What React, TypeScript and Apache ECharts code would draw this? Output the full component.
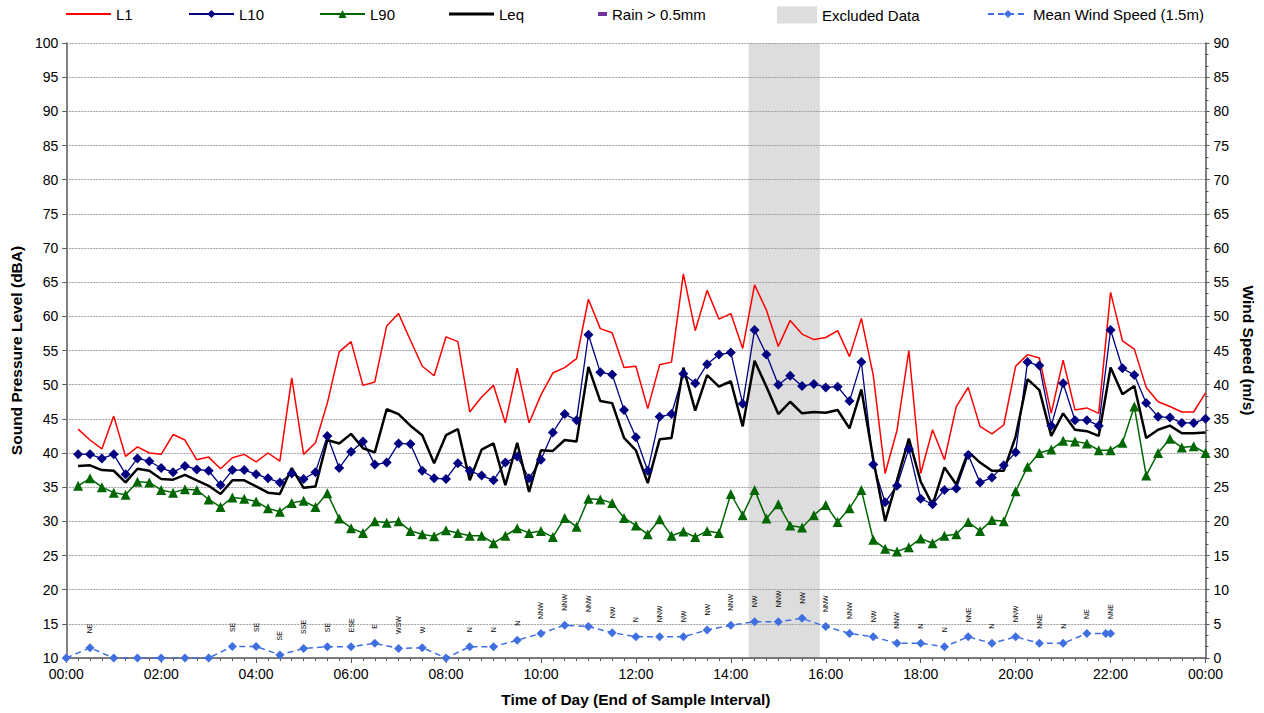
import React, { useEffect, useRef } from "react";
import * as echarts from "echarts";

// End of each 15-minute sample interval, in hours (00:15 ... 24:00)
const intervalEndHours: number[] = Array.from({ length: 96 }, (_, i) => (i + 1) / 4);

const L1 = [
  43.5, 41.9, 40.6, 45.4, 39.5, 40.9, 40.0, 39.8, 42.7, 41.9, 39.0, 39.4, 37.7, 39.3, 39.8, 38.7,
  40.0, 38.8, 51.0, 39.8, 41.5, 47.3, 54.8, 56.3, 49.9, 50.4, 58.6, 60.4, 56.5, 52.7, 51.3, 57.0,
  56.3, 46.0, 48.2, 49.9, 44.4, 52.4, 44.4, 48.5, 51.7, 52.5, 53.8, 62.5, 58.2, 57.6, 52.5, 52.7,
  46.5, 52.9, 53.3, 66.2, 57.9, 63.8, 59.6, 60.4, 55.3, 64.6, 60.9, 55.6, 59.4, 57.4, 56.6, 56.9,
  57.9, 54.1, 59.7, 51.4, 37.0, 43.3, 55.0, 37.0, 43.4, 39.0, 46.8, 49.6, 43.9, 42.8, 44.1, 52.7,
  54.4, 53.9, 45.8, 53.6, 46.3, 46.6, 45.8, 63.5, 56.4, 55.2, 49.6, 47.5, 46.8, 46.0, 46.0, 48.8,
];

const L10 = [
  39.8, 39.8, 39.2, 39.8, 36.9, 39.2, 38.8, 37.8, 37.2, 38.1, 37.6, 37.4, 35.3, 37.5, 37.5, 36.9,
  36.3, 35.7, 37.0, 36.2, 37.2, 42.5, 37.8, 40.2, 41.7, 38.3, 38.6, 41.4, 41.3, 37.4, 36.3, 36.2,
  38.5, 37.4, 36.7, 36.0, 38.6, 39.5, 36.3, 39.0, 43.0, 45.7, 44.8, 57.3, 51.8, 51.5, 46.3, 42.3,
  37.4, 45.3, 45.7, 51.6, 50.2, 53.0, 54.4, 54.7, 47.2, 58.0, 54.4, 50.0, 51.3, 49.8, 50.1, 49.6,
  49.7, 47.6, 53.3, 38.3, 32.8, 35.2, 40.6, 33.3, 32.5, 34.6, 34.8, 39.7, 35.7, 36.4, 38.2, 40.1,
  53.3, 52.8, 44.0, 50.2, 44.8, 44.8, 44.0, 58.0, 52.4, 51.4, 47.3, 45.3, 45.2, 44.4, 44.4, 45.0,
];

const L90 = [
  35.2, 36.3, 35.0, 34.2, 33.9, 35.8, 35.7, 34.6, 34.2, 34.7, 34.6, 33.2, 32.1, 33.5, 33.3, 32.9,
  31.9, 31.4, 32.7, 33.0, 32.1, 34.1, 30.4, 29.0, 28.3, 30.0, 29.8, 30.0, 28.6, 28.1, 27.8, 28.7,
  28.3, 27.9, 27.9, 26.8, 27.9, 29.0, 28.3, 28.6, 27.7, 30.5, 29.2, 33.3, 33.2, 32.7, 30.5, 29.4,
  28.1, 30.3, 27.9, 28.5, 27.7, 28.6, 28.3, 34.0, 30.9, 34.6, 30.4, 32.5, 29.4, 29.1, 30.9, 32.4,
  29.9, 31.9, 34.6, 27.3, 26.0, 25.6, 26.2, 27.5, 26.8, 27.9, 28.1, 29.9, 28.6, 30.2, 30.0, 34.4,
  38.0, 40.0, 40.5, 41.8, 41.7, 41.4, 40.4, 40.4, 41.5, 46.8, 36.7, 40.0, 42.1, 40.8, 41.0, 40.0,
];

const LEQ = [
  38.1, 38.2, 37.5, 37.4, 35.7, 37.7, 37.4, 36.2, 36.1, 36.8, 36.0, 35.2, 34.0, 36.0, 36.0, 35.1,
  34.2, 34.0, 37.8, 34.9, 35.1, 41.9, 41.4, 42.8, 40.7, 40.1, 46.4, 45.7, 44.0, 42.6, 38.5, 42.6,
  43.5, 36.0, 40.5, 41.4, 35.3, 41.5, 34.3, 40.4, 40.3, 41.9, 41.7, 52.6, 47.6, 47.3, 42.2, 40.4,
  35.6, 42.0, 42.2, 52.5, 46.2, 51.4, 49.7, 50.5, 43.9, 53.5, 49.7, 45.7, 47.5, 45.8, 46.0, 45.9,
  46.3, 43.6, 49.3, 39.1, 30.0, 36.0, 42.1, 35.8, 32.4, 37.9, 35.4, 40.2, 38.6, 37.4, 37.4, 42.4,
  50.8, 49.2, 42.5, 45.8, 43.4, 43.2, 42.5, 52.5, 48.6, 49.8, 42.2, 43.4, 44.0, 42.9, 42.9, 43.0,
];

const windHours = [
  0, 0.5, 1, 1.5, 2, 2.5, 3, 3.5, 4, 4.5, 5, 5.5, 6, 6.5, 7, 7.5, 8, 8.5, 9, 9.5, 10, 10.5,
  11, 11.5, 12, 12.5, 13, 13.5, 14, 14.5, 15, 15.5, 16, 16.5, 17, 17.5, 18, 18.5, 19, 19.5,
  20, 20.5, 21, 21.5, 21.9, 22,
];
const windSpeed = [
  0, 1.5, 0, 0, 0, 0, 0, 1.7, 1.7, 0.45, 1.4, 1.65, 1.65, 2.15, 1.4, 1.5, 0, 1.65, 1.65, 2.6, 3.6, 4.8,
  4.6, 3.7, 3.1, 3.1, 3.1, 4.1, 4.8, 5.3, 5.3, 5.8, 4.6, 3.6, 3.1, 2.15, 2.15, 1.65, 3.1, 2.15,
  3.1, 2.15, 2.15, 3.6, 3.6, 3.6,
];
const windDir = [
  "", "NE", "", "", "", "", "", "SE", "SE", "SE", "SSE", "SE", "ESE", "E", "WSW", "W", "", "N", "N", "N", "NNW", "NNW",
  "NNW", "NW", "N", "NNW", "NW", "NW", "NNW", "NW", "NNW", "NW", "NNW", "NNW", "NW", "NNW", "N", "N", "NNE", "N",
  "NNW", "NNE", "N", "NE", "", "NNE",
];

const excludedStart = 14.375;
const excludedEnd = 15.875;

const FONT = "'Liberation Sans', Arial, sans-serif";

function pair(xs: number[], ys: number[]) {
  return ys.map((v, i) => [xs[i], v]);
}

export default function App() {
  const ref = useRef<HTMLDivElement>(null);
  useEffect(() => {
    if (!ref.current) return;
    const chart = echarts.init(ref.current, null, { renderer: "svg" });
    const legendText = { fontFamily: FONT, fontSize: 15, color: "#000" };
    const CY = 15;
    const mkLegend = (name: string, left: number, w: number, h: number, icon?: string) => ({
      data: [icon ? { name, icon } : name],
      left,
      top: CY - Math.max(h, 17) / 2,
      padding: 0,
      itemWidth: w,
      itemHeight: h,
      itemGap: 0,
      textStyle: legendText,
      selectedMode: false,
    });
    chart.setOption({
      animation: false,
      backgroundColor: "#fff",
      textStyle: { fontFamily: FONT },
      legend: [
        mkLegend("L1", 66, 45, 2, "rect"),
        mkLegend("L10", 188, 45, 10),
        mkLegend("L90", 319, 45, 10),
        mkLegend("Leq", 449, 45, 3, "rect"),
        mkLegend("Rain > 0.5mm", 598, 9, 4, "rect"),
        mkLegend("Excluded Data", 777, 40, 17, "rect"),
        mkLegend("Mean Wind Speed (1.5m)", 987, 40, 10),
      ],
      grid: { left: 63, right: 54, top: 43, bottom: 55, containLabel: false },
      xAxis: {
        type: "value",
        min: 0,
        max: 24,
        interval: 2,
        z: 1,
        name: "Time of Day (End of Sample Interval)",
        nameLocation: "middle",
        nameGap: 33,
        nameTextStyle: { fontFamily: FONT, fontSize: 15.5, fontWeight: "bold", color: "#000" },
        axisLine: { show: true, lineStyle: { color: "#595959", width: 1.5 } },
        axisTick: { show: true, length: 5, lineStyle: { color: "#595959" } },
        minorTick: { show: true, splitNumber: 8, length: 3, lineStyle: { color: "#595959" } },
        splitLine: { show: false },
        axisLabel: {
          fontFamily: FONT,
          fontSize: 14,
          color: "#000",
          margin: 9,
          formatter: (v: number) => String(Math.round(v) % 24).padStart(2, "0") + ":00",
        },
      },
      yAxis: [
        {
          type: "value",
          min: 10,
          max: 100,
          interval: 5,
          z: 1,
          name: "Sound Pressure Level (dBA)",
          nameLocation: "middle",
          nameGap: 38,
          nameTextStyle: { fontFamily: FONT, fontSize: 15.5, fontWeight: "bold", color: "#000" },
          axisLine: { show: true, lineStyle: { color: "#595959", width: 1.5 } },
          axisTick: { show: true, length: 4, lineStyle: { color: "#595959" } },
          splitLine: { show: true, lineStyle: { color: "#A0A0A0", type: [2, 1], width: 1 } },
          axisLabel: { fontFamily: FONT, fontSize: 14, color: "#000", margin: 8 },
        },
        {
          type: "value",
          min: 0,
          max: 90,
          interval: 5,
          z: 1,
          position: "right",
          name: "Wind Speed (m/s)",
          nameLocation: "middle",
          nameRotate: -90,
          nameGap: 32,
          nameTextStyle: { fontFamily: FONT, fontSize: 15.5, fontWeight: "bold", color: "#000" },
          axisLine: { show: true, lineStyle: { color: "#595959", width: 1.5 } },
          axisTick: { show: true, length: 4, lineStyle: { color: "#595959" } },
          minorTick: { show: true, splitNumber: 3, length: 3, lineStyle: { color: "#595959" } },
          splitLine: { show: false },
          axisLabel: { fontFamily: FONT, fontSize: 14, color: "#000", margin: 8 },
        },
      ],
      series: [
        {
          name: "Excluded Data",
          type: "bar",
          data: [],
          z: 0,
          itemStyle: { color: "#DDDDDD" },
          markArea: {
            silent: true,
            z: 0,
            itemStyle: { color: "#DDDDDD" },
            data: [[{ xAxis: excludedStart }, { xAxis: excludedEnd }]],
          },
        },
        {
          name: "Rain > 0.5mm",
          type: "line",
          data: [],
          itemStyle: { color: "#7030A0" },
          lineStyle: { color: "#7030A0" },
        },
        {
          name: "L1",
          type: "line",
          data: pair(intervalEndHours, L1),
          symbol: "none",
          color: "#FF0000",
          itemStyle: { color: "#FF0000" },
          lineStyle: { color: "#FF0000", width: 1.5 },
        },
        {
          name: "L10",
          type: "line",
          data: pair(intervalEndHours, L10),
          symbol: "diamond",
          symbolSize: 10,
          color: "#000080",
          itemStyle: { color: "#000080" },
          lineStyle: { color: "#000080", width: 1.3 },
        },
        {
          name: "L90",
          type: "line",
          data: pair(intervalEndHours, L90),
          symbol: "triangle",
          symbolSize: 10,
          color: "#006600",
          itemStyle: { color: "#006600" },
          lineStyle: { color: "#006600", width: 1.5 },
        },
        {
          name: "Leq",
          type: "line",
          data: pair(intervalEndHours, LEQ),
          symbol: "none",
          color: "#000000",
          itemStyle: { color: "#000000" },
          lineStyle: { color: "#000000", width: 2.5 },
        },
        {
          name: "Mean Wind Speed (1.5m)",
          type: "line",
          yAxisIndex: 1,
          data: pair(windHours, windSpeed),
          symbol: "diamond",
          symbolSize: 9,
          color: "#3F6FE0",
          itemStyle: { color: "#3F6FE0" },
          lineStyle: { color: "#3F6FE0", width: 1.5, type: [6, 4] },
          label: {
            show: true,
            position: "top",
            distance: 10,
            rotate: 90,
            align: "left",
            verticalAlign: "middle",
            fontFamily: FONT,
            fontSize: 7,
            color: "#000",
            formatter: (p: any) => windDir[p.dataIndex] || "",
          },
        },
      ],
    });
    return () => chart.dispose();
  }, []);
  return (
    <div
      ref={ref}
      style={{ position: "absolute", left: 0, top: 0, width: 1264, height: 713 }}
    />
  );
}
